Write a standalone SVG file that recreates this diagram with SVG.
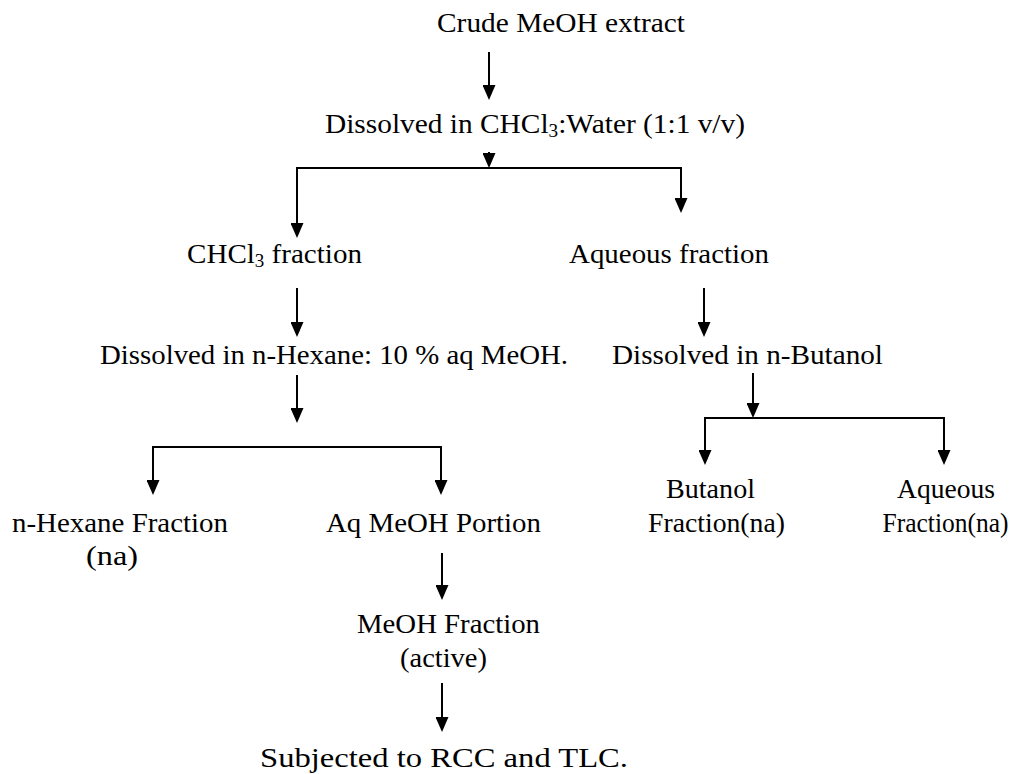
<svg xmlns="http://www.w3.org/2000/svg" width="1025" height="774" viewBox="0 0 1025 774">
<defs>
<style>
.t{font-size:27.5px;fill:#000;text-anchor:middle}
.sub{font-size:18px}
.c{stroke:#000;stroke-width:2;fill:none}
</style>
<marker id="ah" viewBox="0 0 15 13" refX="7" refY="6.5" markerWidth="15" markerHeight="13" markerUnits="userSpaceOnUse" orient="auto">
<path d="M0,0 L15,6.5 L0,13 z" fill="#000"/>
</marker>
</defs>
<rect width="1025" height="774" fill="#fff"/>
<g id="connectors">
<path class="c" d="M489,52 V92" marker-end="url(#ah)"/>
<path class="c" d="M489,152 V160" marker-end="url(#ah)"/>
<path class="c" d="M297,230 V168 H681 V205" marker-end="url(#ah)"/>
<path class="c" d="M297,288 V329" marker-end="url(#ah)"/>
<path class="c" d="M297,375 V415" marker-end="url(#ah)"/>
<path class="c" d="M153,487 V447 H441 V487" marker-end="url(#ah)"/>
<path class="c" d="M153,460 V487" marker-end="url(#ah)"/>
<path class="c" d="M442,553 V592" marker-end="url(#ah)"/>
<path class="c" d="M442,683 V724" marker-end="url(#ah)"/>
<path class="c" d="M704,288 V329" marker-end="url(#ah)"/>
<path class="c" d="M753,373 V410" marker-end="url(#ah)"/>
<path class="c" d="M705,457 V418 H944 V457" marker-end="url(#ah)"/>
<path class="c" d="M705,430 V457" marker-end="url(#ah)"/>
<path class="c" d="M297,200 V230" marker-end="url(#ah)"/>
</g>
<g font-family="Liberation Serif, Times New Roman, serif">
<g id="crude"><text class="t" x="561" y="32" textLength="248" lengthAdjust="spacingAndGlyphs">Crude MeOH extract</text></g>
<g id="dissolved-chcl3"><text class="t" x="535" y="133" textLength="420" lengthAdjust="spacingAndGlyphs">Dissolved in CHCl<tspan class="sub" dy="4">3</tspan><tspan dy="-4">:Water (1:1 v/v)</tspan></text></g>
<g id="chcl3-fraction"><text class="t" x="274.5" y="263" textLength="175" lengthAdjust="spacingAndGlyphs">CHCl<tspan class="sub" dy="4">3</tspan><tspan dy="-4"> fraction</tspan></text></g>
<g id="aqueous-fraction"><text class="t" x="669" y="263" textLength="200" lengthAdjust="spacingAndGlyphs">Aqueous fraction</text></g>
<g id="dissolved-hexane"><text class="t" x="334" y="364" textLength="468" lengthAdjust="spacingAndGlyphs">Dissolved in n-Hexane: 10 % aq MeOH.</text></g>
<g id="dissolved-butanol"><text class="t" x="747.5" y="364" textLength="271" lengthAdjust="spacingAndGlyphs">Dissolved in n-Butanol</text></g>
<g id="hexane-fraction"><text class="t" x="120" y="532" textLength="216" lengthAdjust="spacingAndGlyphs">n-Hexane Fraction</text><text class="t" x="112" y="565" textLength="52" lengthAdjust="spacingAndGlyphs">(na)</text></g>
<g id="aq-meoh-portion"><text class="t" x="433.5" y="532" textLength="215" lengthAdjust="spacingAndGlyphs">Aq MeOH Portion</text></g>
<g id="meoh-fraction"><text class="t" x="448.5" y="633" textLength="183" lengthAdjust="spacingAndGlyphs">MeOH Fraction</text><text class="t" x="443.5" y="667" textLength="87" lengthAdjust="spacingAndGlyphs">(active)</text></g>
<g id="subjected"><text class="t" x="444" y="767" textLength="368" lengthAdjust="spacingAndGlyphs">Subjected to RCC and TLC.</text></g>
<g id="butanol-fraction"><text class="t" x="710.5" y="498" textLength="89" lengthAdjust="spacingAndGlyphs">Butanol</text><text class="t" x="716.5" y="532" textLength="137" lengthAdjust="spacingAndGlyphs">Fraction(na)</text></g>
<g id="aqueous-fraction-na"><text class="t" x="946" y="498" textLength="98" lengthAdjust="spacingAndGlyphs">Aqueous</text><text class="t" x="945.5" y="532" textLength="126" lengthAdjust="spacingAndGlyphs">Fraction(na)</text></g>
</g>
</svg>
